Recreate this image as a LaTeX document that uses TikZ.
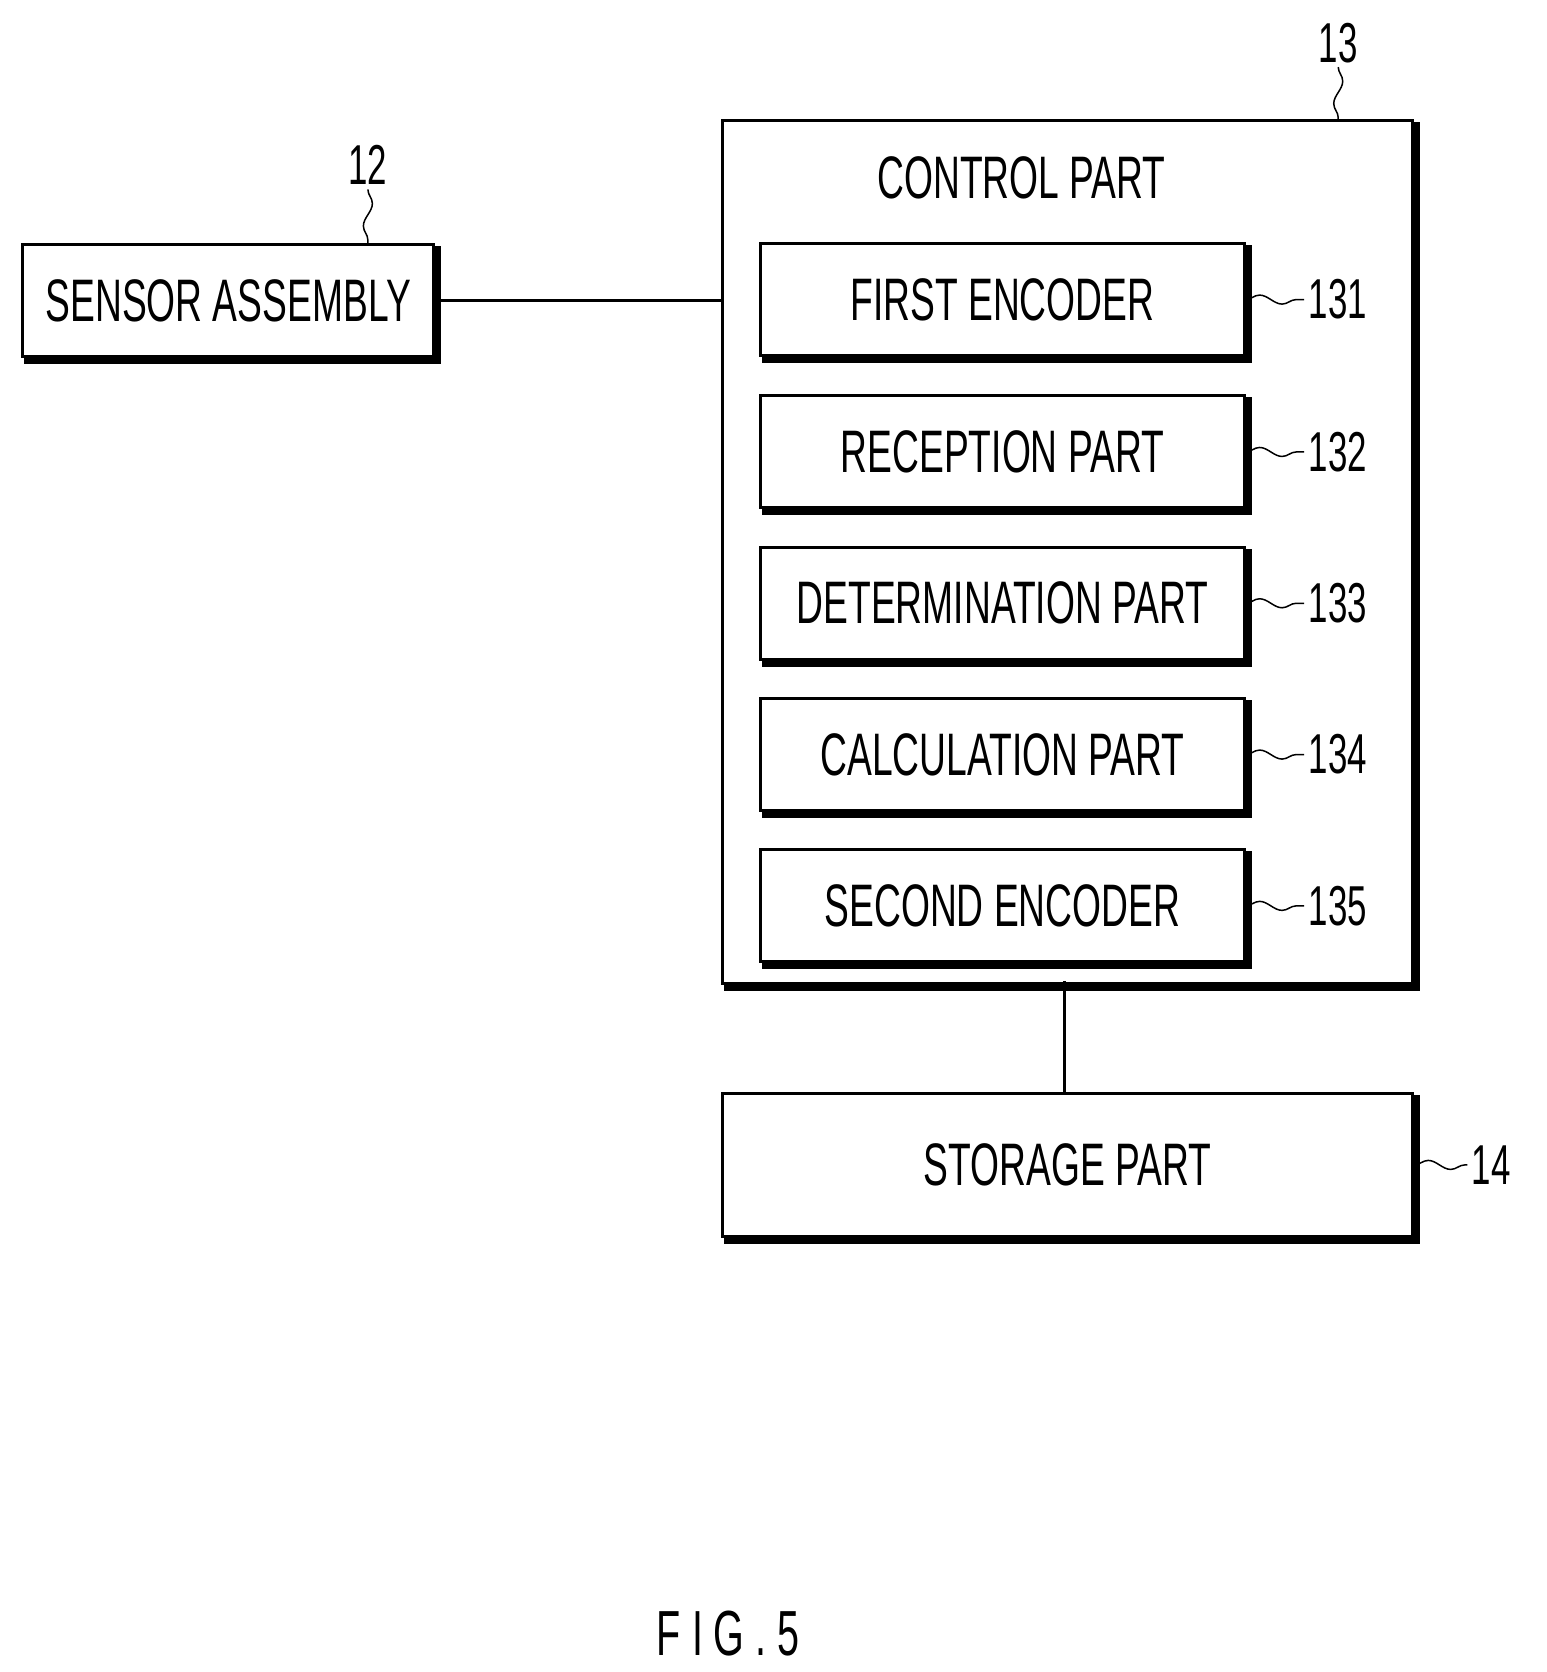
\documentclass[tikz,border=0pt]{standalone}
\usepackage{fontspec}
\setmainfont{Liberation Sans}
\usetikzlibrary{positioning,decorations.pathmorphing}
\newcommand{\narrow}[1]{\scalebox{0.62}[1]{#1}}
\tikzset{
  blk/.style={draw, thick, minimum height=1.05cm, inner sep=0pt,
    font=\fontsize{16}{20}\selectfont, fill=white,
    preaction={draw, line width=1.6pt, transform canvas={xshift=1.2pt, yshift=-1.2pt}}},
  num/.style={font=\fontsize{15}{18}\selectfont, inner sep=1pt},
  lead/.style={decorate, decoration={snake, amplitude=1.2pt, segment length=12pt}}
}
\begin{document}
\begin{tikzpicture}[x=0.01cm, y=-0.01cm]
\useasboundingbox (0,0) rectangle (1450,1568);
% outer boxes
\node (sensor) [blk, minimum width=3.85cm, anchor=north west] at (20,228) {\narrow{SENSOR ASSEMBLY}};
\node (control) [blk, minimum width=6.47cm, minimum height=8.08cm, anchor=north west] at (676,112) {};
\node (ctitle) [font=\fontsize{16}{20}\selectfont] at (958,167) {\narrow{CONTROL PART}};
\node (storage) [blk, minimum width=6.47cm, minimum height=1.34cm, anchor=north west] at (676,1024) {\narrow{STORAGE PART}};
% inner boxes
\node (enc1) [blk, minimum width=4.53cm, anchor=north west] at (712,227) {\narrow{FIRST ENCODER}};
\node (recv) [blk, minimum width=4.53cm, below=0.35cm of enc1] {\narrow{RECEPTION PART}};
\node (det) [blk, minimum width=4.53cm, below=0.34cm of recv] {\narrow{DETERMINATION PART}};
\node (calc) [blk, minimum width=4.53cm, below=0.34cm of det] {\narrow{CALCULATION PART}};
\node (enc2) [blk, minimum width=4.53cm, below=0.34cm of calc] {\narrow{SECOND ENCODER}};
% reference numbers
\node (n12) [num] at (345,155) {\narrow{12}};
\node (n13) [num] at (1255,40) {\narrow{13}};
\node (n131) [num, right=0.55cm of enc1.east, anchor=west] {\narrow{131}};
\node (n132) [num, right=0.55cm of recv.east, anchor=west] {\narrow{132}};
\node (n133) [num, right=0.55cm of det.east, anchor=west] {\narrow{133}};
\node (n134) [num, right=0.55cm of calc.east, anchor=west] {\narrow{134}};
\node (n135) [num, right=0.55cm of enc2.east, anchor=west] {\narrow{135}};
\node (n14) [num, right=0.5cm of storage.east, anchor=west] {\narrow{14}};
\node (fig) [font=\fontsize{17}{20}\selectfont] at (683,1532) {\narrow{F I G . 5}};
% leaders
\draw[lead] (n12.south) -- (sensor.north -| n12.south);
\draw[lead] (n13.south) -- (control.north -| n13.south);
\foreach \b/\n in {enc1/n131, recv/n132, det/n133, calc/n134, enc2/n135, storage/n14}
  \draw[lead] (\b.east) -- (\n.west);
% connectors
\draw[thick] (sensor.east) -- (sensor.east -| control.west);
\draw[thick] (998,920) coordinate (cb) -- (cb |- storage.north);
\end{tikzpicture}
\end{document}
